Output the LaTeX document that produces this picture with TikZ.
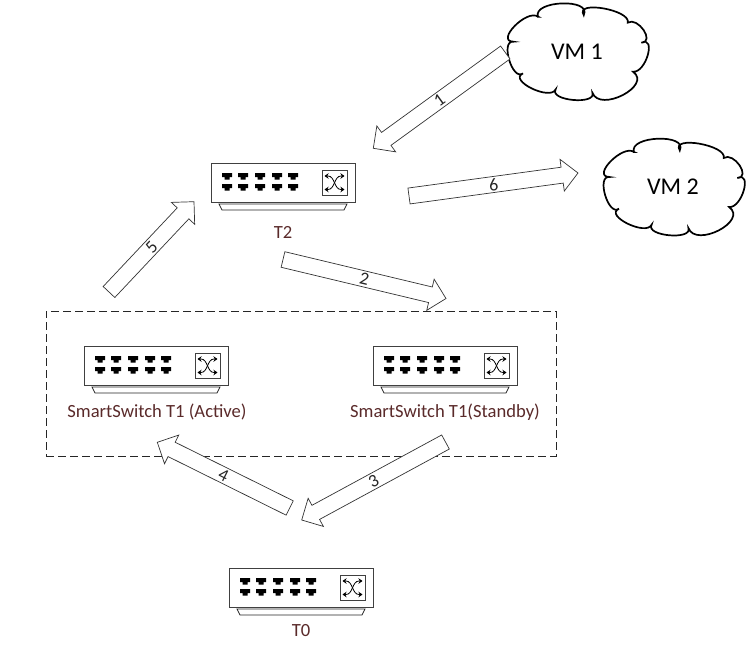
\documentclass[tikz,border=0pt]{standalone}
\usepackage{fontspec}
\setmainfont{Carlito}
\usetikzlibrary{arrows.meta, positioning, calc}
\definecolor{labelbrown}{HTML}{5A2A2A}
\definecolor{bodygray}{HTML}{404040}
\tikzset{
    vmlabel/.style={inner sep=0pt, font=\fontsize{24}{28}\selectfont},
    flow/.style={draw=black!80, line width=0.7pt, fill=white, line join=miter},
    flowlabel/.style={inner sep=0pt, text=black!85, font=\fontsize{18}{20}\selectfont},
    switchlabel/.style={text=labelbrown, inner sep=0pt, font=\fontsize{18.6}{22}\selectfont},
    groupbox/.style={draw=black!85, line width=0.8pt, dash pattern=on 8pt off 4pt, minimum width=510pt, minimum height=145pt, inner sep=0pt},
    cloudshape/.pic={
        \draw[draw=black, line width=1.7pt, fill=white] (-41.7,-35) .. controls (-47.4,-51.3) and (14.7,-53.6) .. (6,-36.7)
            .. controls (-3.8,-51.8) and (55.7,-41.7) .. (51.7,-29)
            .. controls (62.2,-35.6) and (80.7,-9.6) .. (66,-9)
            .. controls (82,-16.3) and (70.7,21.5) .. (57.3,20)
            .. controls (77.7,33.9) and (22.8,61.3) .. (15,41)
            .. controls (19.6,53.4) and (-30.1,49.1) .. (-23.3,37.7)
            .. controls (-28.9,49.4) and (-73.1,28.6) .. (-57.3,21.7)
            .. controls (-68.3,29.8) and (-81.3,-11.5) .. (-67.3,-10)
            .. controls (-86.4,-10.5) and (-53.2,-43.1) .. cycle;
    },
    switchbox/.pic={
        \draw[draw=bodygray, line width=1pt, fill=white] (-72,-19.5) rectangle (72,19.5);
        \draw[draw=black!85, line width=0.8pt, fill=white] (-64,21.5) -- (64,21.5) -- (61,27.5) -- (-61,27.5) -- cycle;
        \foreach \portx in {-56,-40,-23,-6,10} {
            \foreach \porty in {-6,5} {
                \fill[black] (\portx-5,\porty-3.5) -- (\portx+5,\porty-3.5) -- (\portx+5,\porty+0.5) -- (\portx+2.5,\porty+0.5) -- (\portx+2.5,\porty+3) -- (\portx-2.5,\porty+3) -- (\portx-2.5,\porty+0.5) -- (\portx-5,\porty+0.5) -- cycle;
            }
        }
        \draw[draw=bodygray, line width=0.9pt, fill=white] (39,-12) rectangle (64,12.5);
        \draw[{Stealth[length=4pt,width=5.5pt]}-{Stealth[length=4pt,width=5.5pt]}, black, line width=0.8pt] (41.5,-6.5) -- (45,-6.5) .. controls (52,-6.5) and (51,7) .. (58,7) -- (61.5,7);
        \draw[{Stealth[length=4pt,width=5.5pt]}-{Stealth[length=4pt,width=5.5pt]}, black, line width=0.8pt] (41.5,7) -- (45,7) .. controls (52,7) and (51,-6.5) .. (58,-6.5) -- (61.5,-6.5);
    }
}
% block arrow between two coordinates
\newcommand{\flowarrow}[3]{%
    \coordinate (headbase#3) at ($(#2)!16pt!(#1)$);
    \draw[flow] ($(#1)!8pt!90:(#2)$) -- ($(headbase#3)!8pt!90:(#2)$) -- ($(headbase#3)!16pt!90:(#2)$) -- (#2)
        -- ($(headbase#3)!16pt!-90:(#2)$) -- ($(headbase#3)!8pt!-90:(#2)$) -- ($(#1)!8pt!-90:(#2)$) -- cycle;
    \path (#1) -- node[flowlabel, sloped] (flowlabel#3) {#3} (#2);
}

\begin{document}
\begin{tikzpicture}[x=1pt, y=-1pt]
    \useasboundingbox (0,0) rectangle (756,645);
    \node [groupbox] (smartgroup) at (301,383.5) {};
    \pic [xscale=0.96] at (578,51.7) {cloudshape};
    \pic [xscale=0.96] at (674,187) {cloudshape};
    \node [vmlabel] (vm1) at (577,52) {VM 1};
    \node [vmlabel] (vm2) at (673,187) {VM 2};

    \pic at (283,182.5) {switchbox};
    \pic at (156,365.5) {switchbox};
    \pic at (445,365.5) {switchbox};
    \pic at (301,587.5) {switchbox};
    \node [switchlabel] (t2label) at (283,232) {T2};
    \node [switchlabel] (activelabel) at (157,412) {SmartSwitch T1 (Active)};
    \node [switchlabel] (standbylabel) at (445,412) {SmartSwitch T1(Standby)};
    \node [switchlabel] (t0label) at (301,631) {T0};

    % free ends of the block arrows
    \coordinate (flow1a) at (505.3,52.5);
    \coordinate (flow1b) at (373.3,148.3);
    \coordinate (flow2a) at (283,259.5);
    \coordinate (flow2b) at (446,298.5);
    \coordinate (flow3a) at (445.5,442);
    \coordinate (flow3b) at (301.7,520);
    \coordinate (flow4a) at (289.7,508);
    \coordinate (flow4b) at (157.3,442.3);
    \coordinate (flow5a) at (109,292);
    \coordinate (flow5b) at (194,201.7);
    \coordinate (flow6a) at (409,196);
    \coordinate (flow6b) at (578,173);

    \flowarrow{flow1a}{flow1b}{1}
    \flowarrow{flow2a}{flow2b}{2}
    \flowarrow{flow3a}{flow3b}{3}
    \flowarrow{flow4a}{flow4b}{4}
    \flowarrow{flow5a}{flow5b}{5}
    \flowarrow{flow6a}{flow6b}{6}
\end{tikzpicture}
\end{document}
